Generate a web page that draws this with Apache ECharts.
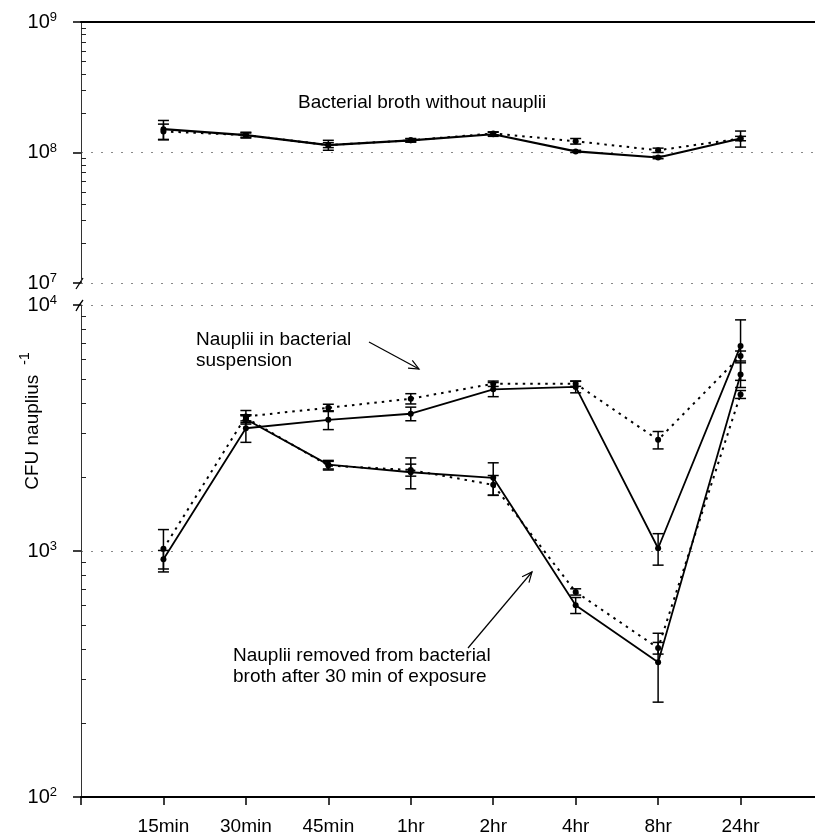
<!DOCTYPE html>
<html><head><meta charset="utf-8">
<script src="https://cdn.jsdelivr.net/npm/echarts@6/dist/echarts.min.js"></script>
<style>html,body{margin:0;padding:0;background:#fff}#c{width:815px;height:835px}</style>
</head><body><div id="c"></div>
<script>
// ---- data ----
const categories = ['15min','30min','45min','1hr','2hr','4hr','8hr','24hr'];

// Top panel: bacterial broth without nauplii (CFU)
const brothSolid      = [1.51e8, 1.36e8, 1.14e8, 1.24e8, 1.38e8, 1.02e8, 0.916e8, 1.28e8];
const brothSolidErr   = [0.25e8, 0.07e8, 0.10e8, 0.04e8, 0.05e8, 0.02e8, 0.02e8, 0.18e8];
const brothDotted     = [1.45e8, 1.36e8, 1.14e8, 1.24e8, 1.40e8, 1.22e8, 1.04e8, 1.28e8];
const brothDottedErr  = [0.20e8, 0.05e8, 0.05e8, 0.03e8, 0.04e8, 0.06e8, 0.04e8, 0.05e8];

// Bottom panel: nauplii in bacterial suspension
const suspSolid       = [925, 3155, 3415, 3614, 4540, 4645, 1026, 6820];
const suspSolidErr    = [80, 390, 300, 230, 300, 250, 150, 1880];
const suspDotted      = [1022, 3525, 3820, 4160, 4786, 4790, 2830, 6210];
const suspDottedErr   = [200, 200, 130, 200, 120, 120, 230, 290];

// Bottom panel: nauplii removed from broth after 30 min
const remSolid        = [null, 3430, 2245, 2090, 1983, 602, 353, 5220];
const remSolidErr     = [null, 150, 90, 300, 300, 45, 110, 600];
const remDotted       = [null, 3480, 2224, 2135, 1857, 682, 403, 4330];
const remDottedErr    = [null, 100, 90, 120, 170, 20, 22, 160];

// axis ticks
const topMinorTicks    = [2e7,3e7,4e7,5e7,6e7,7e7,8e7,9e7,2e8,3e8,4e8,5e8,6e8,7e8,8e8,9e8];
const bottomMinorTicks = [200,300,400,500,600,700,800,900,2000,3000,4000,5000,6000,7000,8000,9000];

// ---- chart ----
const FONT = '"Liberation Sans", Arial, sans-serif';
const chart = echarts.init(document.getElementById('c'), null, {renderer:'canvas'});

function pts(arr){ return arr.map((v,i)=> v==null?null:[i+1, v]).filter(Boolean); }
function errData(vals, errs){ return vals.map((v,i)=> v==null?null:[i+1, v-errs[i], v+errs[i]]).filter(Boolean); }

function lineSeries(vals, gi, dotted){
  return {
    type:'line', xAxisIndex:gi, yAxisIndex:gi*2, data:pts(vals),
    symbol:'circle', symbolSize:6, showSymbol:true,
    itemStyle:{color:'#000'},
    lineStyle:{color:'#000', width: dotted?2:(gi===0?2.2:1.8), type: dotted?[2.5,5]:'solid'},
    animation:false, z:3, silent:true
  };
}
function errSeries(vals, errs, gi){
  return {
    type:'custom', xAxisIndex:gi, yAxisIndex:gi*2, data:errData(vals, errs),
    encode:{x:0, y:[1,2]}, animation:false, z:2, silent:true,
    renderItem:function(params, api){
      const x = api.value(0), lo = api.value(1), hi = api.value(2);
      const a = api.coord([x, lo]), b = api.coord([x, hi]);
      const hw = 5.5, st = {stroke:'#000', lineWidth:1.5};
      return {type:'group', children:[
        {type:'line', shape:{x1:a[0], y1:a[1], x2:b[0], y2:b[1]}, style:st},
        {type:'line', shape:{x1:a[0]-hw, y1:a[1], x2:a[0]+hw, y2:a[1]}, style:st},
        {type:'line', shape:{x1:b[0]-hw, y1:b[1], x2:b[0]+hw, y2:b[1]}, style:st}
      ]};
    }
  };
}

const powLabel = {
  formatter: v => '{b|10}{s|' + Math.round(Math.log10(v)) + '}',
  margin: 24,
  rich: {
    b:{fontSize:20, fontFamily:FONT, color:'#000', lineHeight:22},
    s:{fontSize:13, fontFamily:FONT, color:'#000', lineHeight:13, verticalAlign:'top'}
  }
};
const gridLine = {show:true, lineStyle:{type:[2,8], color:'#888', width:1}};

function mainY(gi, min, max){
  return {
    gridIndex:gi, type:'log', logBase:10, min:min, max:max, position:'left',
    axisLine:{show:true, onZero:false, lineStyle:{color:'#333', width:1}},
    axisTick:{show:true, inside:false, length:8, lineStyle:{color:'#000', width:1.5}},
    axisLabel: powLabel, splitLine: gridLine, minorTick:{show:false}
  };
}
function minorY(gi, min, max, ticks){
  return {
    gridIndex:gi, type:'log', logBase:10, min:min, max:max, position:'left',
    axisLine:{show:false, onZero:false},
    axisTick:{show:true, inside:true, length:5, customValues:ticks, lineStyle:{color:'#222', width:1}},
    axisLabel:{show:false}, splitLine:{show:false}
  };
}

function arrow(x1,y1,x2,y2){
  const a = Math.atan2(y2-y1, x2-x1), L = 11, w = 0.42;
  const st = {stroke:'#000', lineWidth:1.2, fill:null};
  return [
    {type:'line', shape:{x1:x1,y1:y1,x2:x2,y2:y2}, style:st},
    {type:'polyline', shape:{points:[[x2-L*Math.cos(a-w), y2-L*Math.sin(a-w)],[x2,y2],[x2-L*Math.cos(a+w), y2-L*Math.sin(a+w)]]}, style:st}
  ];
}
function txt(x,y,s){
  return {type:'text', x:x, y:y, style:{text:s, fontSize:19, fontFamily:FONT, fill:'#000', align:'left', verticalAlign:'middle'}};
}

const option = {
  backgroundColor:'#fff',
  animation:false,
  grid:[
    {left:81, width:742, top:22, height:261, outerBoundsMode:'none', containLabel:false},
    {left:81, width:742, top:305, height:492, outerBoundsMode:'none', containLabel:false}
  ],
  xAxis:[
    {gridIndex:0, type:'value', min:0, max:9, position:'top',
     axisLine:{show:true, onZero:false, lineStyle:{color:'#000', width:2}},
     axisTick:{show:false}, axisLabel:{show:false}, splitLine:{show:false}},
    {gridIndex:1, type:'value', min:0, max:9, interval:1, position:'bottom',
     axisLine:{show:true, onZero:false, lineStyle:{color:'#000', width:2}},
     axisTick:{show:true, length:8, lineStyle:{color:'#000', width:1.5}},
     axisLabel:{formatter: v => categories[v-1] || '', fontSize:19, fontFamily:FONT, color:'#000', margin:20},
     splitLine:{show:false}}
  ],
  yAxis:[
    mainY(0, 1e7, 1e9),
    minorY(0, 1e7, 1e9, topMinorTicks),
    mainY(1, 1e2, 1e4),
    minorY(1, 1e2, 1e4, bottomMinorTicks)
  ],
  series:[
    errSeries(brothSolid, brothSolidErr, 0),
    errSeries(brothDotted, brothDottedErr, 0),
    lineSeries(brothDotted, 0, true),
    lineSeries(brothSolid, 0, false),
    errSeries(suspSolid, suspSolidErr, 1),
    errSeries(suspDotted, suspDottedErr, 1),
    errSeries(remSolid, remSolidErr, 1),
    errSeries(remDotted, remDottedErr, 1),
    lineSeries(suspDotted, 1, true),
    lineSeries(remDotted, 1, true),
    lineSeries(suspSolid, 1, false),
    lineSeries(remSolid, 1, false)
  ],
  graphic:[].concat(
    [
      txt(298, 103, 'Bacterial broth without nauplii'),
      txt(196, 340, 'Nauplii in bacterial'),
      txt(196, 361, 'suspension'),
      txt(233, 656, 'Nauplii removed from bacterial'),
      txt(233, 677, 'broth after 30 min of exposure'),
      // axis break marks
      {type:'line', shape:{x1:76, y1:289, x2:83, y2:278}, style:{stroke:'#000', lineWidth:1.3}},
      {type:'bezierCurve', shape:{x1:76, y1:311, x2:83, y2:300, cpx1:79, cpy1:305}, style:{stroke:'#000', lineWidth:1.3, fill:null}},
      // y axis title
      {type:'text', x:30, y:421, rotation:Math.PI/2,
       style:{text:'{m|CFU nauplius}{s|-1}', align:'center', verticalAlign:'middle',
              rich:{
                m:{fontSize:19, fontFamily:FONT, fill:'#000', lineHeight:24, verticalAlign:'bottom'},
                s:{fontSize:14, fontFamily:FONT, fill:'#000', lineHeight:14, verticalAlign:'top', padding:[0,0,0,10]}
              }}}
    ],
    arrow(369, 342, 419, 369),
    arrow(468, 648, 532, 572)
  )
};
chart.setOption(option);
</script>
</body></html>
